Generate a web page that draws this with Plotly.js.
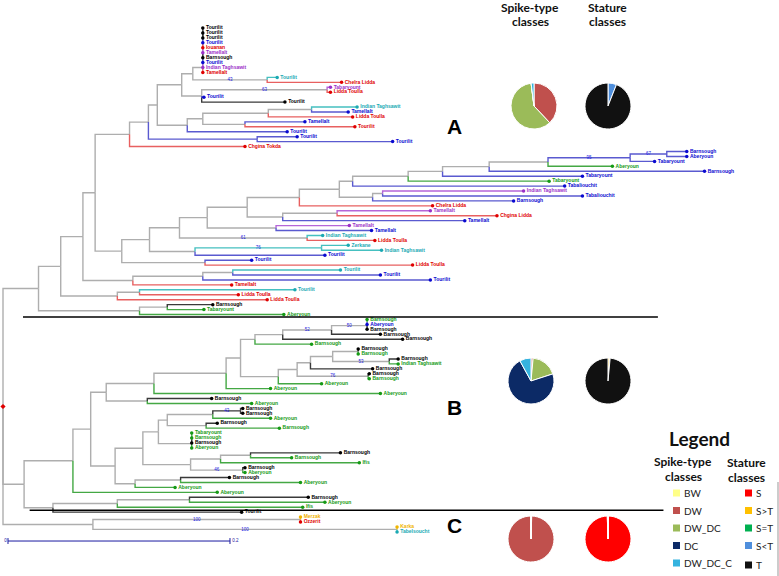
<!DOCTYPE html>
<html><head><meta charset="utf-8">
<script src="https://cdn.plot.ly/plotly-3.0.1.min.js"></script>
<style>html,body{margin:0;padding:0;background:#fff}#chart{width:779px;height:576px}</style>
</head><body><div id="chart"></div>
<script>
// ---------------- tree data ----------------
// leaves, top-to-bottom order
const leafNames = ['Tourilit','Tourilit','Tourilit','Tourilit','Iouanan','Tamellalt','Barnsough','Tourilit','Indian Taghsawit','Tamellalt',
 'Tourilit','Chelra Lidda','Tabaryount','Lidda Toulla','Tourilit','Tourilit','Indian Taghsawit','Tamellalt','Lidda Toulla','Tamellalt','Tourilit','Tourilit','Tourilit','Tourilit','Chgina Tokda',
 'Barnsough','Aberyoun','Tabaryount','Aberyoun','Barnsough','Tabaryount','Tabaryount','Tabaliouchit','Indian Taghsawit','Tabaliouchit','Barnsough','Chelra Lidda','Tamellalt','Chgina Lidda','Tamellalt',
 'Tamellalt','Tamellalt','Indian Taghsawit','Lidda Toulla','Zerkane','Indian Taghsawit','Tourilit','Tourilit','Lidda Toulla','Tourilit','Tourilit','Tourilit','Tamellalt','Tourilit','Lidda Toulla','Lidda Toulla','Barnsough','Tabaryount','Aberyoun',
 'Barnsough','Aberyoun','Barnsough','Barnsough','Barnsough','Barnsough','Barnsough','Barnsough','Barnsough','Indian Taghsawit','Barnsough','Barnsough','Barnsough','Aberyoun','Aberyoun','Aberyoun','Barnsough','Aberyoun',
 'Barnsough','Barnsough','Aberyoun','Barnsough','Barnsough','Tabaryount','Barnsough','Barnsough','Aberyoun','Barnsough','Barnsough','Ifis','Barnsough','Aberyoun','Barnsough','Aberyoun','Aberyoun','Aberyoun','Barnsough','Aberyoun','Ifis','Tourilit',
 'Merzak','Ozzerit','Karka','Tabelsoucht'];
const leafGroup = ['k','k','k','b','r','p','k','b','p','r',
 't','r','p','r','b','k','t','b','r','b','r','b','b','b','r',
 'b','b','b','g','b','b','g','b','p','b','b','r','p','r','b',
 'p','b','t','r','t','t','b','b','r','t','b','b','r','t','r','r','k','g','g',
 'g','b','k','k','k','g','k','g','k','g','k','k','g','g','g','g','k','g',
 'k','k','g','k','g','g','g','k','g','k','g','g','k','g','k','g','g','g','k','g','g','k',
 'y','r','y','t'];
const leafParent = ['S1','S1','S2','S3','S4','S5','S6','S7','S8','S9',
 'A267','A267','A327','A327','A202','A202','A312','A312','A268','A245','A245','A187','A257','A257','A130',
 'A667','A667','A630','A548','A489','A443','A408','A353','A383','A383','A373','A299','A337','A337','A283',
 'A276','A276','A307','A307','A322','A322','A195','A205','A205','A233','A233','A203c','A133','A139','A139','A117','A167','A167','A140',
 'T1','T1','T2','B332','B283','B255','U1','U1','B376','B376','B310','B366','B366','B278','B226','B154','B147','B147',
 'B240b','B240b','B213','B206','B206','V1','V1','V2','V3','B251','B251','B221','B217','B217','B180','B180','B135','B73','B189','B189','B117','B53',
 'C300','C300','C397','C397'];
const leafDepth = [0.180,0.180,0.180,0.180,0.180,0.180,0.180,0.180,0.180,0.180,
 0.247,0.305,0.295,0.295,0.181,0.254,0.319,0.311,0.315,0.272,0.317,0.256,0.265,0.351,0.218,
 0.616,0.616,0.587,0.549,0.632,0.522,0.492,0.506,0.469,0.522,0.460,0.387,0.385,0.445,0.416,
 0.312,0.332,0.288,0.335,0.311,0.341,0.290,0.224,0.369,0.304,0.340,0.385,0.206,0.263,0.212,0.238,0.189,0.181,0.253,
 0.328,0.328,0.328,0.340,0.360,0.278,0.320,0.320,0.356,0.356,0.333,0.330,0.330,0.287,0.241,0.340,0.188,0.224,
 0.216,0.216,0.241,0.193,0.249,0.170,0.170,0.170,0.170,0.304,0.260,0.321,0.218,0.218,0.204,0.268,0.155,0.193,0.275,0.290,0.270,0.215,
 0.268,0.268,0.355,0.355];
// internal nodes
const nodeNames = ['root','A39','A61','A83','A95','A130','A148','A157','A182','A193',
 'S9','S8','S7','S6','S5','S4','S3','S2','S1',
 'A267','A202','A327','A187','A203b','A268','A312','A245','A257','A122','A149','A179','A207','A247','A299','A339','A353','A408','A443','A489','A548','A630','A667',
 'A373','A383','A283','A337','A276','A307','A195','A322','A205','A133','A203c','A233','A117','A139','A140','A167',
 'B24','B73','B91','B106','B154','B226','B240','B255','B283','B332','T2','T1','B278','B297','B310','B333','U1','B376','B366','B147',
 'B115','B143','B158','B167','B213','B240b','B206','V3','V2','V1','B190','B221','B251','B217','B135','B180','B53','B117','B189',
 'C93','C300','C397'];
const nodeParent = [null,'root','A39','A61','A83','A95','A130','A148','A157','A182',
 'A193','S9','S8','S7','S6','S5','S4','S3','S2',
 'A193','A182','A202','A157','A187','A203b','A268','A203b','A148','A95','A122','A149','A179','A207','A247','A299','A339','A353','A408','A443','A489','A548','A630',
 'A339','A373','A247','A283','A207','A179','A149','A195','A122','A83','A133','A203c','A61','A117','A39','A140',
 'root','B24','B73','B91','B106','B154','B226','B240','B255','B283','B332','T2','B240','B278','B297','B310','B333','B333','B297','B106',
 'B91','B115','B143','B158','B167','B213','B167','B158','V3','V2','B143','B190','B221','B190','B115','B135','B24','B53','B117',
 'root','C93','C93'];
const nodeDepth = [0,0.032,0.052,0.072,0.083,0.114,0.131,0.139,0.161,0.171,
 0.180,0.180,0.180,0.180,0.180,0.180,0.180,0.180,0.180,
 0.238,0.179,0.292,0.166,0.180,0.239,0.278,0.218,0.229,0.107,0.132,0.159,0.184,0.220,0.267,0.303,0.315,0.365,0.396,0.438,0.491,0.565,0.598,
 0.333,0.342,0.252,0.301,0.246,0.274,0.173,0.287,0.182,0.117,0.180,0.207,0.103,0.123,0.123,0.148,
 0.019,0.063,0.079,0.093,0.136,0.201,0.214,0.227,0.252,0.296,0.328,0.328,0.248,0.265,0.277,0.297,0.320,0.348,0.329,0.130,
 0.101,0.126,0.140,0.148,0.189,0.214,0.183,0.170,0.170,0.170,0.169,0.196,0.223,0.216,0.119,0.160,0.045,0.103,0.168,
 0.081,0.268,0.355];
const nodeSupport = {A267:'43',A327:'63',A630:'95',A667:'67',A307:'61',A322:'76',
 B332:'52',T2:'50',B376:'53',B366:'76',B240b:'43',B217:'46',C300:'100',C397:'100'};

// ---------------- pie data ----------------
const spikeLabels = ['BW','DW','DW_DC','DC','DW_DC_C'];
const spikeColors = ['#ffff88','#c0504d','#9bbb59','#0c2a66','#35b3df'];
const statureLabels = ['S','S>T','S=T','S<T','T'];
const statureColors = ['#ff0000','#ffc000','#00b050','#4f8fdc','#111111'];
const spikeA = [0, 38, 60, 0, 2];
const statureA = [0, 0, 0, 6, 94];
const spikeB = [0, 1.5, 18.5, 72, 8];
const statureB = [0, 1.5, 0, 0, 98.5];
const spikeC = [0.5, 99.5, 0, 0, 0];
const statureC = [99.5, 0.5, 0, 0, 0];
const scaleBarLength = 0.2;

// ---------------- styling ----------------
const groupKeys = ['k','b','r','g','t','p','y','gray'];
const textCol = {k:'#000000',b:'#0a0ad0',r:'#e00000',g:'#159a15',t:'#1aa9b3',p:'#9b30c8',y:'#f0b400'};
const lineCol = {k:'#3a3a3a',b:'#5a5ad0',r:'#e86060',g:'#44a844',t:'#45c0c0',p:'#b566d8',y:'#f0c030',gray:'#aeaeae'};

// ---------------- tree layout ----------------
const xOf={}, yOf={}, colOf={}, parentOf={}, kids={};
nodeNames.forEach((n,i)=>{kids[n]=[]; xOf[n]=nodeDepth[i]; parentOf[n]=nodeParent[i];});
leafNames.forEach((_,i)=>{const id='L'+i; xOf[id]=leafDepth[i]; yOf[id]=i; colOf[id]=leafGroup[i]; parentOf[id]=leafParent[i]; kids[leafParent[i]].push(id);});
nodeNames.forEach((n,i)=>{ if(nodeParent[i]) kids[nodeParent[i]].push(n); });
function solve(n){
  if(yOf[n]!==undefined) return;
  const ys=[], gs=new Set();
  kids[n].forEach(c=>{solve(c); ys.push(yOf[c]); gs.add(colOf[c]);});
  yOf[n]=(Math.min(...ys)+Math.max(...ys))/2;
  colOf[n]= gs.size===1 ? [...gs][0] : 'gray';
}
solve('root');

const segs={}; groupKeys.forEach(k=>segs[k]={x:[],y:[]});
Object.keys(parentOf).forEach(c=>{
  const p=parentOf[c]; if(!p) return;
  const s=segs[colOf[c]];
  s.x.push(xOf[p],xOf[p],xOf[c],null);
  s.y.push(yOf[p],yOf[c],yOf[c],null);
});
const traces=[];
['gray','k','b','r','g','t','p','y'].forEach(k=>{
  traces.push({type:'scatter',mode:'lines',x:segs[k].x,y:segs[k].y,
    line:{color:lineCol[k],width:1.4},hoverinfo:'skip',showlegend:false});
});
// leaves
traces.push({type:'scatter',mode:'markers+text',
  x:leafDepth, y:leafNames.map((_,i)=>i), text:leafNames,
  textposition:'middle right', cliponaxis:false,
  textfont:{family:'Liberation Sans, Arial, sans-serif',size:5,weight:700,color:leafGroup.map(g=>textCol[g])},
  marker:{symbol:'circle',size:3.5,color:leafGroup.map(g=>textCol[g])},
  hoverinfo:'skip',showlegend:false});
// support values
const sn=Object.keys(nodeSupport);
traces.push({type:'scatter',mode:'text',
  x:sn.map(n=>(xOf[n]+xOf[parentOf[n]])/2), y:sn.map(n=>yOf[n]), text:sn.map(n=>nodeSupport[n]),
  textposition:'middle center', cliponaxis:false,
  textfont:{family:'Liberation Sans, Arial, sans-serif',size:4.5,color:'#1a1ae0'},
  hoverinfo:'skip',showlegend:false});
// root marker
traces.push({type:'scatter',mode:'markers',x:[xOf.root],y:[yOf.root],
  marker:{symbol:'diamond',size:4,color:'#e00000'},hoverinfo:'skip',showlegend:false,cliponaxis:false});
// scale bar
const sbX0=0.0045, sbY=103.85;
traces.push({type:'scatter',mode:'lines',
  x:[sbX0,sbX0,null,sbX0,sbX0+scaleBarLength,null,sbX0+scaleBarLength,sbX0+scaleBarLength],
  y:[sbY-0.6,sbY+0.6,null,sbY,sbY,null,sbY-0.6,sbY+0.6],
  line:{color:'#1a1aa0',width:1},hoverinfo:'skip',showlegend:false});
traces.push({type:'scatter',mode:'text',x:[sbX0-0.001,sbX0+scaleBarLength+0.002],y:[sbY,sbY],text:['0',String(scaleBarLength)],
  textposition:['middle left','middle right'],cliponaxis:false,
  textfont:{family:'Liberation Sans, Arial, sans-serif',size:4.5,color:'#1a1aa0'},hoverinfo:'skip',showlegend:false});

// ---------------- pies ----------------
const W=779,H=576;
function dom(cx,cy,r){return {x:[(cx-r)/W,(cx+r)/W],y:[1-(cy+r)/H,1-(cy-r)/H]};}
function pie(vals,labels,colors,cx,cy){
  return {type:'pie',values:vals,labels:labels,marker:{colors:colors,line:{color:'#ffffff',width:1}},
    sort:false,direction:'clockwise',rotation:0,textinfo:'none',hoverinfo:'skip',showlegend:false,
    domain:dom(cx,cy,23)};
}
traces.push(pie(spikeA,spikeLabels,spikeColors,534,106));
traces.push(pie(statureA,statureLabels,statureColors,608,106));
traces.push(pie(spikeB,spikeLabels,spikeColors,531,381));
traces.push(pie(statureB,statureLabels,statureColors,608,381));
traces.push(pie(spikeC,spikeLabels,spikeColors,531,539));
traces.push(pie(statureC,statureLabels,statureColors,608,539));

// ---------------- annotations & shapes ----------------
const P=(x,y)=>({x:x/W,y:1-y/H});
const ann=[];
function txt(s,x,y,size,opt={}){
  const p=P(x,y);
  ann.push(Object.assign({text:s,x:p.x,y:p.y,xref:'paper',yref:'paper',showarrow:false,
    xanchor:'center',yanchor:'middle',font:{family:'Lato, Carlito, sans-serif',size:size,color:'#111',weight:700}},opt));
}
txt('Spike-type',530,8,12); txt('classes',530,22,12);
txt('Stature',607,8,12); txt('classes',607,22,12);
txt('A',454,126,22,{font:{family:'Liberation Sans, Arial, sans-serif',size:21,weight:700,color:'#000'}});
txt('B',454,407,22,{font:{family:'Liberation Sans, Arial, sans-serif',size:21,weight:700,color:'#000'}});
txt('C',454,525,22,{font:{family:'Liberation Sans, Arial, sans-serif',size:21,weight:700,color:'#000'}});
txt('Legend',699,438,19);
txt('Spike-type',683,461,12); txt('classes',683,476,12);
txt('Stature',746,462,12); txt('classes',746,477,12);

const shapes=[];
const rowY=k=>493+17.5*k;
spikeLabels.forEach((l,k)=>{
  const a=P(673,rowY(k)-3.5), b=P(680,rowY(k)+3.5);
  shapes.push({type:'rect',xref:'paper',yref:'paper',x0:a.x,x1:b.x,y0:b.y,y1:a.y,fillcolor:spikeColors[k],line:{width:0}});
  const t=P(682,rowY(k)); ann.push({text:l,x:t.x,y:t.y,xref:'paper',yref:'paper',showarrow:false,xanchor:'left',yanchor:'middle',
    font:{family:'Lato, sans-serif',size:10,color:'#222'}});
});
statureLabels.forEach((l,k)=>{
  const yy=rowY(k)+(k===4?2:0);
  const a=P(745,yy-3.5), b=P(752,yy+3.5);
  shapes.push({type:'rect',xref:'paper',yref:'paper',x0:a.x,x1:b.x,y0:b.y,y1:a.y,fillcolor:statureColors[k],line:{width:0}});
  const t=P(754,yy); ann.push({text:l.replace('>','&gt;').replace('<','&lt;'),x:t.x,y:t.y,xref:'paper',yref:'paper',showarrow:false,xanchor:'left',yanchor:'middle',
    font:{family:'Lato, sans-serif',size:10,color:'#222'}});
});
// clade separators
shapes.push({type:'line',xref:'x',yref:'y',x0:0.018,x1:0.590,y0:58.5,y1:58.5,line:{color:'#000',width:1.5}});
shapes.push({type:'line',xref:'x',yref:'y',x0:0.024,x1:0.595,y0:97.6,y1:97.6,line:{color:'#000',width:1.5}});
// thin right frame line
{const a=P(778,482),b=P(778,576); shapes.push({type:'line',xref:'paper',yref:'paper',x0:a.x,x1:b.x,y0:a.y,y1:b.y,line:{color:'#999',width:1}});}

const layout={width:W,height:H,margin:{l:0,r:0,t:0,b:0},paper_bgcolor:'#fff',plot_bgcolor:'#fff',
  xaxis:{range:[-0.0027,0.6991],visible:false,fixedrange:true},
  yaxis:{range:[110.93,-5.668],visible:false,fixedrange:true},
  annotations:ann,shapes:shapes,showlegend:false};
Plotly.newPlot('chart',traces,layout,{staticPlot:true,displayModeBar:false});
</script></body></html>
